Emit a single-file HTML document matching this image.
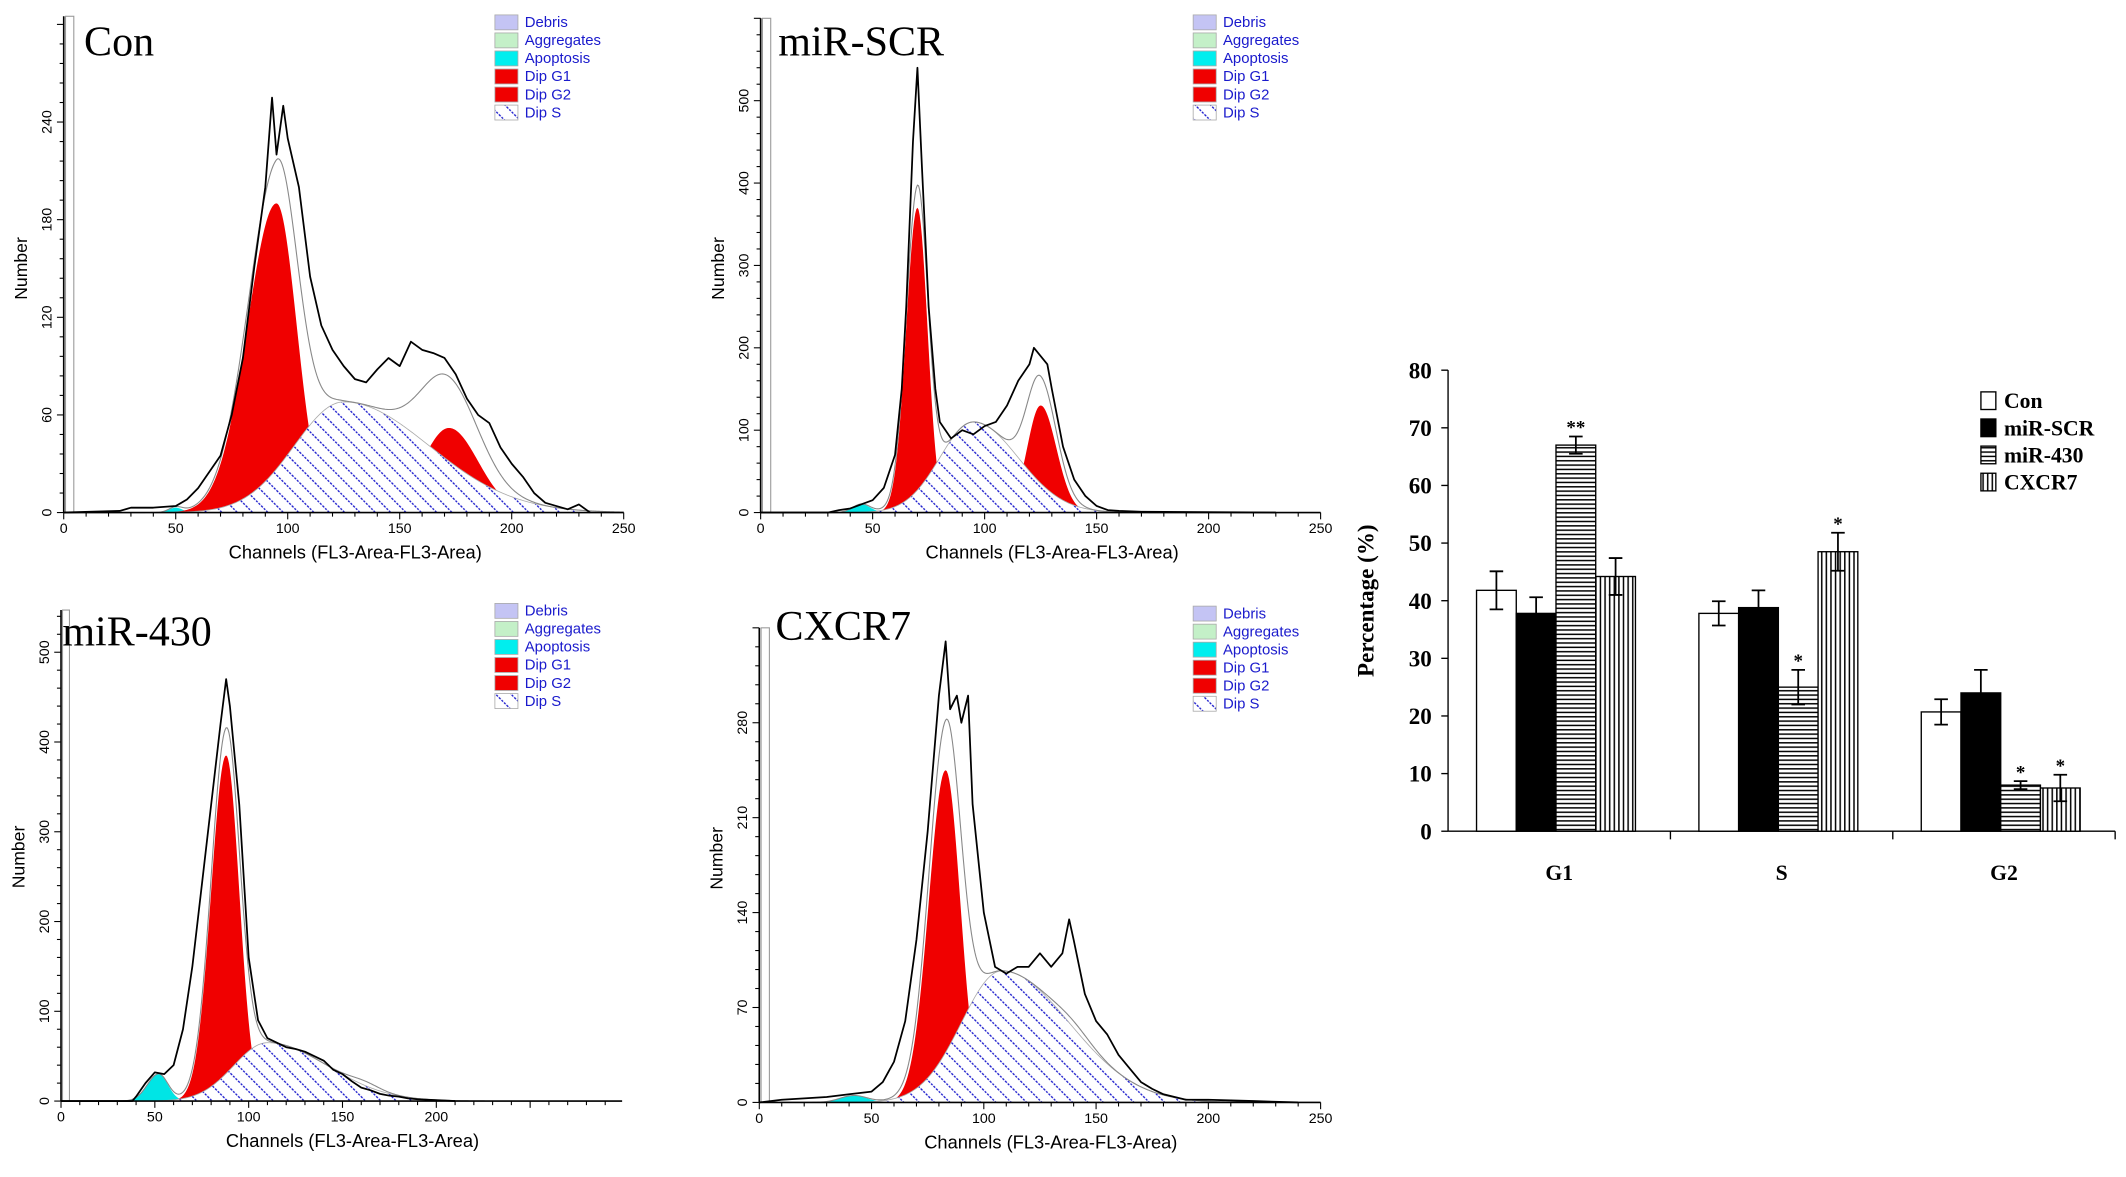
<!DOCTYPE html>
<html><head><meta charset="utf-8">
<style>
html,body{margin:0;padding:0;background:#fff;}
svg{display:block;}
</style></head>
<body>
<svg id="fig" width="2126" height="1177" viewBox="0 0 1568 868" preserveAspectRatio="none" xmlns="http://www.w3.org/2000/svg">
<defs>
<pattern id="hatchS" patternUnits="userSpaceOnUse" width="8" height="8" patternTransform="rotate(-45)">
<rect width="8" height="8" fill="#fff"/>
<line x1="0" y1="0" x2="0" y2="8" stroke="#1a1acc" stroke-width="2" stroke-dasharray="1.6,1"/>
</pattern>
<pattern id="hstripe" patternUnits="userSpaceOnUse" width="4" height="3.2">
<rect width="4" height="3.2" fill="#fff"/><line x1="0" y1="0.6" x2="4" y2="0.6" stroke="#000" stroke-width="1.1"/>
</pattern>
<pattern id="vstripe" patternUnits="userSpaceOnUse" width="3.4" height="4">
<rect width="3.4" height="4" fill="#fff"/><line x1="0.6" y1="0" x2="0.6" y2="4" stroke="#000" stroke-width="1.1"/>
</pattern>
</defs>
</svg>
<script>
// ===== Histogram data (channel, count) =====
const conCh   = [0,25,30,40,50,55,60,65,70,75,80,85,90,93,95,98,100,105,110,115,120,125,130,135,140,145,150,155,160,165,170,175,180,185,190,195,200,205,210,215,220,225,230,235];
const conCnt  = [0,1,3,3,4,8,15,25,35,60,95,150,200,255,220,250,230,200,145,115,100,90,82,80,88,95,90,105,100,98,95,85,70,60,55,40,30,22,12,6,4,2,5,0];
const scrCh   = [0,30,35,40,45,50,55,60,63,65,68,70,72,75,78,80,85,90,95,100,105,110,115,120,122,125,128,130,135,140,145,150,155,160,170,230];
const scrCnt  = [0,0,3,5,10,15,30,70,150,250,450,540,420,250,150,110,90,100,95,105,110,130,160,180,200,190,180,150,80,40,20,8,3,2,1,0];
const m430Ch  = [0,38,40,45,50,55,60,65,70,75,80,85,88,90,95,100,105,110,115,120,125,130,135,140,145,150,155,160,165,170,175,180,185,190,200,210];
const m430Cnt = [0,0,5,20,32,30,40,80,150,240,330,420,470,440,330,160,90,70,65,60,58,55,50,45,35,30,22,15,12,8,6,5,3,2,1,0];
const cxCh    = [0,10,20,30,40,50,55,60,65,70,75,80,83,85,88,90,93,95,100,105,110,115,120,125,130,135,138,140,145,150,155,160,165,170,175,180,185,190,200,220,240];
const cxCnt   = [0,2,3,4,6,8,15,30,60,120,200,300,340,290,300,280,300,220,140,100,95,100,100,110,100,110,135,120,80,60,50,35,25,15,10,6,4,2,2,1,0];
// fitted components: [mean, sdLeft, sdRight, height]
const conG1=[95,13,9,190], conS=[125,22,38,68], conG2=[172,12,13,52], conAp=[50,3,3,3];
const scrG1=[70,5,4.5,370], scrS=[95,15,20,110], scrG2=[125,6,7,130], scrAp=[45,4,4,10];
const m430G1=[88,8,7,385], m430S=[110,18,32,65], m430G2=[162,8,8,5], m430Ap=[52,6,5,30];
const cxG1=[83,7.5,6.5,245], cxS=[108,18,30,97], cxG2=[140,8,8,5], cxAp=[42,6,6,5];
const legendLabels=["Debris","Aggregates","Apoptosis","Dip G1","Dip G2","Dip S"];

// ===== Bar chart data =====
const phases=["G1","S","G2"];
const groups=["Con","miR-SCR","miR-430","CXCR7"];
const conVals=[41.8,37.8,20.7], conErr=[3.3,2.1,2.2];
const scrVals=[37.8,38.8,24.0], scrErr=[2.8,3.0,4.0];
const m430Vals=[67.0,25.0,8.0], m430Err=[1.5,3.0,0.7];
const cxVals=[44.2,48.5,7.5], cxErr=[3.2,3.3,2.3];
const sigMarks=[["","",""],["","",""],["**","*","*"],["","*","*"]];
const yTicks=[0,10,20,30,40,50,60,70,80];

const NS="http://www.w3.org/2000/svg";
const svg=document.getElementById('fig');
function el(tag,attrs,parent,text){const e=document.createElementNS(NS,tag);for(const k in attrs)e.setAttribute(k,attrs[k]);if(text!==undefined)e.textContent=text;(parent||svg).appendChild(e);return e;}
function comp(p,c){const sd=c<p[0]?p[1]:p[2];return p[3]*Math.exp(-0.5*((c-p[0])/sd)**2);}

function panel(cfg){
  const g=el('g',{});
  
  
  const X=c=>cfg.x0+c*cfg.px, Y=v=>cfg.y0-v*cfg.py;
  const top=Y(cfg.ymax);
  const gate=el('rect',{x:X(0.8),y:top,width:X(4.5)-X(0.8),height:cfg.y0-top,fill:'#fff',stroke:'#999','stroke-width':0.8},g);
  
  const area=(p,fill,nm)=>{let d=`M${X(0)},${Y(0)}`;for(let c=0;c<=cfg.xmax;c+=0.5)d+=`L${X(c)},${Y(comp(p,c))}`;d+=`L${X(cfg.xmax)},${Y(0)}Z`;
    const a=el('path',{d:d,fill:fill,stroke:'none'},g);};
  area(cfg.ap,'#00e5e5','apoptosis-area');
  area(cfg.g1,'#f00000','dip-g1-area');
  area(cfg.g2,'#f00000','dip-g2-area');
  area(cfg.s,'url(#hatchS)','dip-s-area');
  let so='';for(let c=0;c<=cfg.xmax;c+=0.5)so+=(c?'L':'M')+X(c)+','+Y(comp(cfg.s,c));
  el('path',{d:so,fill:'none',stroke:'#aaa','stroke-width':0.6},g);
  let fd='';for(let c=0;c<=cfg.xmax;c+=0.5){const v=comp(cfg.g1,c)+comp(cfg.g2,c)+comp(cfg.s,c)+comp(cfg.ap,c);fd+=(c?'L':'M')+X(c)+','+Y(v);}
  const fit=el('path',{d:fd,fill:'none',stroke:'#888','stroke-width':0.8},g);
  
  let rd='';cfg.ch.forEach((c,i)=>{rd+=(i?'L':'M')+X(c)+','+Y(cfg.cnt[i]);});
  const raw=el('path',{d:rd,fill:'none',stroke:'#000','stroke-width':1.3,'stroke-linejoin':'round'},g);
  
  el('line',{x1:cfg.x0,y1:top,x2:cfg.x0,y2:cfg.y0,stroke:'#000','stroke-width':1.2},g);
  el('line',{x1:cfg.x0,y1:cfg.y0,x2:X(cfg.xmax),y2:cfg.y0,stroke:'#000','stroke-width':1.2},g);
  for(let c=0;c<=cfg.xmax;c+=10){const big=c%50===0;el('line',{x1:X(c),y1:cfg.y0,x2:X(c),y2:cfg.y0+(big?5:3),stroke:'#000','stroke-width':0.8},g);}
  cfg.xlab.forEach(c=>{const t=el('text',{x:X(c),y:cfg.y0+15,'font-size':10.5,'text-anchor':'middle','font-family':'Liberation Sans, sans-serif'},g,String(c));});
  const minor=cfg.ystep/5;
  for(let v=0;v<=cfg.ymax;v+=minor){const big=Math.abs(v/cfg.ystep-Math.round(v/cfg.ystep))<1e-6;el('line',{x1:cfg.x0-(big?5:3),y1:Y(v),x2:cfg.x0,y2:Y(v),stroke:'#000','stroke-width':0.8},g);}
  for(let v=0;v<=cfg.ylabMax;v+=cfg.ystep){const tx=cfg.x0-9,ty=Y(v);const t=el('text',{x:tx,y:ty,'font-size':10.5,'text-anchor':'middle','font-family':'Liberation Sans, sans-serif',transform:`rotate(-90 ${tx} ${ty})`},g,String(v));}
  const xt=el('text',{x:cfg.x0+215,y:cfg.y0+34,'font-size':13.5,'text-anchor':'middle','font-family':'Liberation Sans, sans-serif'},g,'Channels (FL3-Area-FL3-Area)');
  
  const yx=cfg.x0-27,yy=cfg.y0-180;
  const yt=el('text',{x:yx,y:yy,'font-size':13,'text-anchor':'middle','font-family':'Liberation Sans, sans-serif',transform:`rotate(-90 ${yx} ${yy})`},g,'Number');
  
  const ti=el('text',{x:cfg.tx,y:cfg.ty,'font-size':31,'font-family':'Liberation Serif, serif'},g,cfg.title);
  
  const fills=['#c4c4f4','#c4f0c8','#00eeee','#f00000','#f00000','url(#hatchS)'];
  legendLabels.forEach((lab,i)=>{const ly=cfg.ly+i*13.3;
    const lg=el('g',{},g);
    el('rect',{x:cfg.lx,y:ly-5,width:17,height:11,fill:fills[i],stroke:'#aaa','stroke-width':0.6},lg);
    el('text',{x:cfg.lx+22,y:ly+4,'font-size':11,fill:'#1a1acc','font-family':'Liberation Sans, sans-serif'},lg,lab);});
}
panel({name:'con-histogram',x0:47,y0:378,px:1.652,py:1.2,xmax:250,ymax:305,ylabMax:240,ystep:60,xlab:[0,50,100,150,200,250],ch:conCh,cnt:conCnt,g1:conG1,s:conS,g2:conG2,ap:conAp,title:'Con',tx:62,ty:41,lx:365,ly:16});
panel({name:'mir-scr-histogram',x0:561,y0:378,px:1.652,py:0.6075,xmax:250,ymax:600,ylabMax:500,ystep:100,xlab:[0,50,100,150,200,250],ch:scrCh,cnt:scrCnt,g1:scrG1,s:scrS,g2:scrG2,ap:scrAp,title:'miR-SCR',tx:574,ty:41,lx:880,ly:16});
panel({name:'mir-430-histogram',x0:45,y0:812,px:1.384,py:0.662,xmax:299,ymax:547,ylabMax:500,ystep:100,xlab:[0,50,100,150,200],ch:m430Ch,cnt:m430Cnt,g1:m430G1,s:m430S,g2:m430G2,ap:m430Ap,title:'miR-430',tx:46,ty:476,lx:365,ly:450});
panel({name:'cxcr7-histogram',x0:560,y0:813,px:1.656,py:1.0,xmax:250,ymax:350,ylabMax:280,ystep:70,xlab:[0,50,100,150,200,250],ch:cxCh,cnt:cxCnt,g1:cxG1,s:cxS,g2:cxG2,ap:cxAp,title:'CXCR7',tx:572,ty:472,lx:880,ly:452});

// ===== Bar chart =====
const bc=el('g',{});


const bx0=1068,by0=613,yk=4.25,gw=164,bw=29.3;
const BY=v=>by0-v*yk;
el('line',{x1:bx0,y1:BY(80),x2:bx0,y2:by0,stroke:'#000','stroke-width':1},bc);
el('line',{x1:bx0,y1:by0,x2:bx0+3*gw,y2:by0,stroke:'#000','stroke-width':1},bc);
yTicks.forEach(v=>{el('line',{x1:bx0-5,y1:BY(v),x2:bx0,y2:BY(v),stroke:'#000'},bc);
  const t=el('text',{x:bx0-12,y:BY(v)+6,'font-size':17,'font-weight':'bold','text-anchor':'end','font-family':'Liberation Serif, serif'},bc,String(v));
  });
for(let i=1;i<=3;i++)el('line',{x1:bx0+i*gw,y1:by0,x2:bx0+i*gw,y2:by0+6,stroke:'#000'},bc);
phases.forEach((p,i)=>{const t=el('text',{x:bx0+i*gw+gw/2,y:by0+36,'font-size':16,'font-weight':'bold','text-anchor':'middle','font-family':'Liberation Serif, serif'},bc,p);
  });
const yl=el('text',{x:1013,y:443,'font-size':17,'font-weight':'bold','text-anchor':'middle','font-family':'Liberation Serif, serif',transform:'rotate(-90 1013 443)'},bc,'Percentage (%)');

const series=[conVals,scrVals,m430Vals,cxVals], errs=[conErr,scrErr,m430Err,cxErr];
const bfills=['#fff','#000','url(#hstripe)','url(#vstripe)'];
phases.forEach((p,gi)=>{series.forEach((vals,si)=>{
  const x=bx0+gi*gw+21+si*bw, v=vals[gi], e=errs[si][gi];
  const r=el('rect',{x:x,y:BY(v),width:bw,height:by0-BY(v),fill:bfills[si],stroke:'#000','stroke-width':1},bc);
  
  const cx=x+bw/2;
  const eb=el('path',{d:`M${cx},${BY(v-e)}L${cx},${BY(v+e)}M${cx-5},${BY(v+e)}L${cx+5},${BY(v+e)}M${cx-5},${BY(v-e)}L${cx+5},${BY(v-e)}`,stroke:'#000','stroke-width':1.3,fill:'none'},bc);
  
  const s=sigMarks[si][gi];
  if(s){const t=el('text',{x:cx,y:BY(v+e)-2,'font-size':14,'font-weight':'bold','text-anchor':'middle','font-family':'Liberation Serif, serif'},bc,s);
    }
});});
groups.forEach((gname,i)=>{const ly=295+i*20;
  const lg=el('g',{},bc);
  el('rect',{x:1461,y:ly-6,width:11,height:13,fill:bfills[i],stroke:'#000','stroke-width':1},lg);
  el('text',{x:1478,y:ly+6,'font-size':16,'font-weight':'bold','font-family':'Liberation Serif, serif'},lg,gname);});
</script>
</body></html>
